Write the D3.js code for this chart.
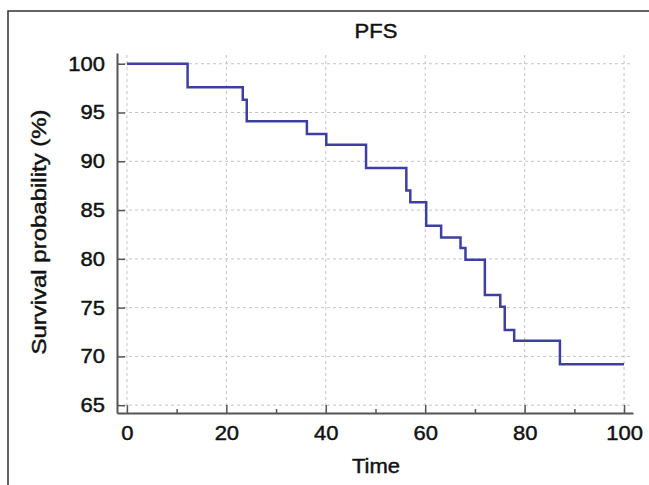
<!DOCTYPE html>
<html>
<head>
<meta charset="utf-8">
<script src="https://cdn.jsdelivr.net/npm/d3@7"></script>
<style>
  html, body { margin: 0; padding: 0; background: #fff; }
  svg { display: block; font-family: "Liberation Sans", Arial, sans-serif; }
  svg text { stroke: #111; stroke-width: 0.45px; }
</style>
</head>
<body>
<svg id="chart" width="649" height="485"></svg>
<script>
// ---- data ----
const times    = [0, 12.2, 23.3, 24.1, 36.2, 40.1, 48.1, 56.2, 57.0, 60.2, 63.2, 67.1, 68.1, 72.0, 75.1, 76.0, 77.9, 87.1, 100];
const survival = [100, 97.6, 96.3, 94.1, 92.8, 91.7, 89.3, 87.0, 85.8, 83.4, 82.2, 81.1, 79.9, 76.3, 75.1, 72.7, 71.6, 69.2, 69.2];
const xTicks = [0, 20, 40, 60, 80, 100];
const xMinorTicks = [10, 30, 50, 70, 90];
const yTicks = [65, 70, 75, 80, 85, 90, 95, 100];
const titleText = "PFS";
const xLabel = "Time";
const yLabel = "Survival probability (%)";

const svg = d3.select("#chart");
const pLeft = 117, pRight = 633, pTop = 53, pBottom = 413;
const x = d3.scaleLinear().domain([-2, 101.8]).range([pLeft, pRight]);
const y = d3.scaleLinear().domain([64.2, 101.1]).range([pBottom, pTop]);
const sx = 1.1;

// frame (top and left edges visible)
svg.append("path").attr("d", "M8,485 L8,11 L649,11")
  .attr("fill", "none").attr("stroke", "#333").attr("stroke-width", 1.5);

// grid
const grid = svg.append("g").attr("stroke", "#c4c4c4").attr("stroke-width", 1).attr("stroke-dasharray", "3,3");
grid.selectAll("line.v").data(xTicks).join("line").attr("class", "v")
  .attr("x1", d => x(d)).attr("x2", d => x(d)).attr("y1", 55).attr("y2", pBottom);
grid.selectAll("line.h").data(yTicks).join("line").attr("class", "h")
  .attr("y1", d => y(d)).attr("y2", d => y(d)).attr("x1", pLeft).attr("x2", pRight);

// step line
const pts = times.map((t, i) => [t, survival[i]]);
const line = d3.line().x(d => x(d[0])).y(d => y(d[1])).curve(d3.curveStepAfter);
svg.append("path").datum(pts).attr("d", line)
  .attr("fill", "none").attr("stroke", "#3f3fa3").attr("stroke-width", 2.5);

// axes
const axisColor = "#555";
const gx = svg.append("g").attr("transform", `translate(0,${pBottom})`)
  .call(d3.axisBottom(x).tickValues(xTicks).tickSizeInner(-8).tickSizeOuter(0).tickPadding(13));
const gxm = svg.append("g").attr("transform", `translate(0,${pBottom})`)
  .call(d3.axisBottom(x).tickValues(xMinorTicks).tickSizeInner(-4).tickSizeOuter(0).tickFormat(""));
const gy = svg.append("g").attr("transform", `translate(${pLeft},0)`)
  .call(d3.axisLeft(y).tickValues(yTicks).tickSizeInner(-8).tickSizeOuter(0).tickPadding(11));
[gx, gxm, gy].forEach(g => {
  g.select(".domain").attr("stroke", axisColor).attr("stroke-width", 2);
  g.selectAll(".tick line").attr("stroke", axisColor).attr("stroke-width", 1.5);
  g.selectAll("text").attr("font-size", 20).attr("fill", "#111")
    .attr("font-family", "'Liberation Sans', Arial, sans-serif")
    .attr("transform", `scale(${sx},1)`);
});
gxm.select(".domain").remove();

// title
svg.append("text")
  .attr("transform", `translate(376,38) scale(${sx},1)`)
  .attr("text-anchor", "middle").attr("font-size", 20).attr("fill", "#111").text(titleText);
// x label
svg.append("text")
  .attr("transform", `translate(376,473) scale(${sx},1)`)
  .attr("text-anchor", "middle").attr("font-size", 20).attr("fill", "#111").text(xLabel);
// y label
svg.append("text")
  .attr("transform", `translate(39,232) rotate(-90) scale(1.17,1)`)
  .attr("text-anchor", "middle").attr("dy", "0.35em").attr("font-size", 20.5).attr("fill", "#111").text(yLabel);
</script>
</body>
</html>
